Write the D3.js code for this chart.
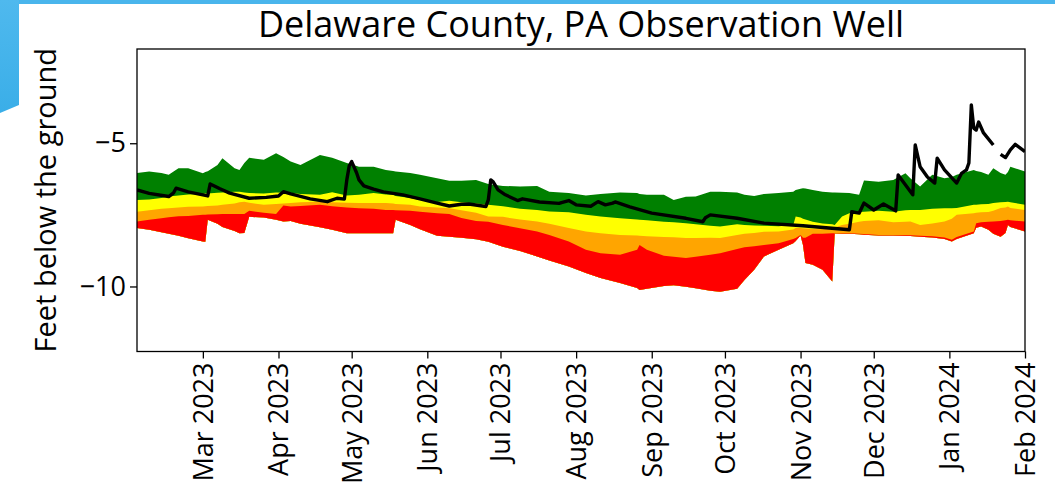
<!DOCTYPE html>
<html lang="en">
<head>
  <meta charset="UTF-8">
  <title>Delaware County, PA Observation Well</title>
  <script src="https://d3js.org/d3.v7.min.js"></script>
  <style>
    body {
      margin: 0;
      background-color: #ffffff;
      font-family: 'Open Sans', 'Noto Sans', sans-serif;
    }
    svg { display: block; }
    .tick text { fill: #000; }
  </style>
</head>
<body>
  <svg id="chart" width="1055" height="498"></svg>

  <script>
    // percentile bands (feet, negative = below ground)
    const bandDates = ["2023-02-02","2023-02-07","2023-02-12","2023-02-15","2023-02-19","2023-02-23","2023-03-01","2023-03-02","2023-03-03","2023-03-07",
      "2023-03-09","2023-03-14","2023-03-16","2023-03-18","2023-03-20","2023-03-26","2023-03-31","2023-04-03","2023-04-06","2023-04-10",
      "2023-04-18","2023-04-23","2023-04-29","2023-05-04","2023-05-10","2023-05-15","2023-05-18","2023-05-19","2023-05-25","2023-05-29",
      "2023-06-05","2023-06-10","2023-06-15","2023-06-21","2023-06-26","2023-07-02","2023-07-09","2023-07-16","2023-07-21","2023-07-29",
      "2023-08-05","2023-08-11","2023-08-19","2023-08-26","2023-08-27","2023-08-30","2023-09-06","2023-09-10","2023-09-15","2023-09-19",
      "2023-09-25","2023-09-29","2023-10-06","2023-10-09","2023-10-13","2023-10-17","2023-10-23","2023-10-29","2023-10-30","2023-11-01",
      "2023-11-02","2023-11-03","2023-11-06","2023-11-10","2023-11-14","2023-11-15","2023-11-18","2023-11-21","2023-11-25","2023-11-27",
      "2023-12-03","2023-12-09","2023-12-14","2023-12-16","2023-12-20","2023-12-25","2023-12-30","2024-01-02","2024-01-04","2024-01-11",
      "2024-01-12","2024-01-14","2024-01-17","2024-01-19","2024-01-22","2024-01-24","2024-01-25","2024-01-26","2024-02-01"];

    const greenTop = [-6.04,-5.99,-6.04,-6.10,-5.87,-5.87,-6.05,-6.00,-5.98,-5.76,
      -5.52,-5.87,-5.93,-5.69,-5.51,-5.58,-5.35,-5.48,-5.64,-5.76,
      -5.41,-5.51,-5.69,-5.82,-5.82,-5.93,-5.97,-5.99,-6.04,-6.10,
      -6.22,-6.31,-6.31,-6.28,-6.42,-6.49,-6.51,-6.49,-6.69,-6.74,
      -6.82,-6.77,-6.72,-6.74,-6.77,-6.80,-6.80,-6.98,-6.87,-6.86,
      -6.69,-6.69,-6.72,-6.80,-6.84,-6.77,-6.74,-6.69,-6.63,-6.59,
      -6.57,-6.58,-6.63,-6.69,-6.72,-6.72,-6.73,-6.74,-6.80,-6.30,
      -6.34,-6.28,-6.05,-6.22,-6.51,-6.10,-6.22,-6.18,-6.10,-5.93,
      -5.97,-6.00,-6.10,-5.87,-6.04,-6.10,-6.00,-5.82,-5.99];

    const yellowTop = [-6.98,-6.96,-6.91,-6.86,-6.82,-6.79,-6.77,-6.75,-6.75,-6.73,
      -6.72,-6.69,-6.69,-6.72,-6.74,-6.75,-6.72,-6.73,-6.74,-6.77,
      -6.80,-6.71,-6.82,-6.80,-6.74,-6.79,-6.80,-6.84,-6.91,-6.98,
      -7.05,-7.01,-7.06,-7.10,-7.15,-7.20,-7.29,-7.33,-7.38,-7.41,
      -7.50,-7.56,-7.62,-7.66,-7.67,-7.69,-7.74,-7.76,-7.79,-7.83,
      -7.88,-7.91,-7.83,-7.85,-7.87,-7.88,-7.90,-7.85,-7.56,-7.59,
      -7.64,-7.66,-7.74,-7.80,-7.83,-7.85,-7.56,-7.44,-7.40,-7.39,
      -7.36,-7.39,-7.34,-7.33,-7.33,-7.29,-7.27,-7.27,-7.26,-7.15,
      -7.15,-7.13,-7.12,-7.09,-7.06,-7.05,-7.04,-7.06,-7.15];

    const orangeTop = [-7.39,-7.34,-7.29,-7.27,-7.24,-7.22,-7.21,-7.20,-7.19,-7.17,
      -7.15,-7.10,-7.06,-7.04,-7.08,-7.15,-7.12,-7.10,-7.09,-7.06,
      -7.04,-7.06,-7.08,-7.09,-7.09,-7.09,-7.10,-7.12,-7.15,-7.21,
      -7.24,-7.27,-7.34,-7.43,-7.56,-7.57,-7.66,-7.73,-7.81,-7.96,
      -8.08,-8.14,-8.20,-8.22,-8.23,-8.25,-8.27,-8.28,-8.31,-8.31,
      -8.30,-8.31,-8.20,-8.16,-8.13,-8.09,-8.08,-8.01,-7.96,-7.96,
      -7.97,-7.98,-7.99,-8.00,-7.95,-7.94,-7.85,-7.81,-7.74,-7.71,
      -7.69,-7.76,-7.74,-7.73,-7.85,-7.80,-7.73,-7.64,-7.50,-7.44,
      -7.43,-7.41,-7.40,-7.36,-7.26,-7.24,-7.21,-7.26,-7.33];

    const redTop = [-7.73,-7.67,-7.62,-7.58,-7.55,-7.54,-7.50,-7.50,-7.49,-7.48,
      -7.47,-7.47,-7.47,-7.47,-7.36,-7.43,-7.47,-7.17,-7.21,-7.19,
      -7.15,-7.20,-7.24,-7.27,-7.29,-7.33,-7.33,-7.34,-7.36,-7.39,
      -7.44,-7.47,-7.61,-7.71,-7.74,-7.85,-7.97,-8.08,-8.20,-8.43,
      -8.72,-8.84,-8.89,-8.72,-8.55,-8.72,-8.93,-8.96,-9.01,-8.96,
      -8.89,-8.84,-8.69,-8.63,-8.60,-8.55,-8.49,-8.34,-8.31,-8.20,
      -8.30,-8.30,-8.16,-8.16,-8.14,-8.14,-8.14,-8.14,-8.16,-8.17,
      -8.20,-8.20,-8.20,-8.21,-8.23,-8.25,-8.29,-8.37,-8.27,-8.08,
      -7.79,-7.76,-7.74,-7.73,-7.71,-7.69,-7.67,-7.69,-7.73];

    const redBottom = [-7.96,-8.02,-8.11,-8.16,-8.23,-8.32,-8.43,-8.44,-7.67,-7.81,
      -7.92,-8.06,-8.14,-8.13,-7.57,-7.59,-7.67,-7.73,-7.71,-7.81,
      -7.93,-8.02,-8.14,-8.14,-8.14,-8.14,-8.14,-7.67,-7.85,-8.00,
      -8.23,-8.26,-8.30,-8.35,-8.44,-8.61,-8.76,-8.95,-9.09,-9.30,
      -9.53,-9.70,-9.88,-10.05,-10.12,-10.08,-9.98,-9.96,-10.01,-10.06,
      -10.15,-10.18,-10.08,-9.77,-9.42,-8.95,-8.72,-8.49,-8.41,-8.22,
      -8.55,-9.18,-9.24,-9.42,-9.83,-8.15,-8.16,-8.16,-8.18,-8.19,
      -8.22,-8.22,-8.23,-8.24,-8.26,-8.29,-8.34,-8.43,-8.34,-8.14,
      -7.95,-7.91,-8.02,-8.16,-8.26,-8.13,-7.85,-7.92,-8.08];

    // observed water level (null = missing)
    const levelDates = ["2023-02-02","2023-02-07","2023-02-15","2023-02-17","2023-02-18","2023-02-23","2023-03-03","2023-03-04","2023-03-08","2023-03-12",
      "2023-03-20","2023-03-27","2023-04-01","2023-04-03","2023-04-06","2023-04-14","2023-04-21","2023-04-25","2023-04-28","2023-04-29",
      "2023-04-30","2023-05-01","2023-05-03","2023-05-04","2023-05-06","2023-05-10","2023-05-14","2023-05-22","2023-05-29","2023-06-05",
      "2023-06-10","2023-06-15","2023-06-18","2023-06-25","2023-06-26","2023-06-27","2023-06-28","2023-06-30","2023-07-03","2023-07-06",
      "2023-07-08","2023-07-10","2023-07-17","2023-07-25","2023-07-26","2023-07-29","2023-08-01","2023-08-07","2023-08-10","2023-08-13",
      "2023-08-16","2023-08-17","2023-08-23","2023-09-01","2023-09-15","2023-09-22","2023-09-23","2023-09-25","2023-10-06","2023-10-17",
      "2023-11-02","2023-11-21","2023-11-22","2023-11-25","2023-11-27","2023-12-01","2023-12-05","2023-12-10","2023-12-11","2023-12-17",
      "2023-12-18","2023-12-20","2023-12-23","2023-12-26","2023-12-27","2023-12-30","2024-01-04","2024-01-06","2024-01-08","2024-01-09",
      "2024-01-10","2024-01-11","2024-01-12","2024-01-13","2024-01-15","2024-01-19","2024-01-20","2024-01-22","2024-01-24","2024-01-26",
      "2024-01-28","2024-02-01"];

    const levelFeet = [-6.63,-6.75,-6.86,-6.73,-6.57,-6.70,-6.84,-6.42,-6.59,-6.74,
      -6.92,-6.89,-6.84,-6.69,-6.77,-6.94,-7.04,-6.92,-6.95,-6.28,
      -5.79,-5.64,-6.03,-6.28,-6.49,-6.60,-6.70,-6.80,-6.94,-7.09,
      -7.19,-7.13,-7.12,-7.21,-6.98,-6.28,-6.35,-6.63,-6.80,-6.92,
      -7.00,-6.94,-7.05,-7.10,-7.07,-7.00,-7.15,-7.20,-7.04,-7.15,
      -7.09,-7.05,-7.22,-7.44,-7.62,-7.74,-7.60,-7.50,-7.62,-7.79,
      -7.88,-8.02,-7.39,-7.44,-7.09,-7.33,-7.12,-7.36,-6.11,-6.80,
      -5.06,-5.82,-6.18,-6.39,-5.52,-5.93,-6.39,-6.05,-5.93,-5.69,
      -3.66,-4.47,-4.54,-4.26,-4.64,-5.06,null,-5.39,-5.50,-5.23,
      -5.04,-5.29];

    const yTicks = [-5, -10];
    const monthTicks = ["2023-03-01","2023-04-01","2023-05-01","2023-06-01","2023-07-01","2023-08-01",
      "2023-09-01","2023-10-01","2023-11-01","2023-12-01","2024-01-01","2024-02-01"];

    const parseDate = d3.timeParse("%Y-%m-%d");

    const W = 1055, H = 498;
    const margin = {top: 49, right: 30, bottom: 146.5, left: 137};
    const width = W - margin.left - margin.right;
    const height = H - margin.top - margin.bottom;

    const svg = d3.select("#chart");

    // slide decoration behind the figure
    const grad = svg.append("defs").append("linearGradient")
      .attr("id", "deco").attr("x1", 0).attr("y1", 0).attr("x2", 0).attr("y2", 1);
    grad.append("stop").attr("offset", "0%").attr("stop-color", "#4fb9ee");
    grad.append("stop").attr("offset", "100%").attr("stop-color", "#3aaee8");
    svg.append("rect").attr("x", 0).attr("y", 0).attr("width", W).attr("height", 4).attr("fill", "#49b5ec");
    svg.append("path").attr("d", "M0,0H19V105L0,113Z").attr("fill", "url(#deco)");

    const g = svg.append("g")
      .attr("transform", "translate(" + margin.left + "," + margin.top + ")");

    const bands = bandDates.map((d, i) => ({
      date: parseDate(d),
      green: greenTop[i], yellow: yellowTop[i], orange: orangeTop[i],
      red: redTop[i], bottom: redBottom[i]
    }));
    const level = levelDates.map((d, i) => ({date: parseDate(d), value: levelFeet[i]}));

    const x = d3.scaleTime()
      .domain(d3.extent(bands, d => d.date))
      .range([0, width]);

    const y = d3.scaleLinear()
      .domain([-12.27, -1.71])
      .range([height, 0]);

    g.append("clipPath").attr("id", "plotclip")
      .append("rect").attr("width", width).attr("height", height);

    const layers = g.append("g").attr("clip-path", "url(#plotclip)");

    // each layer fills from its top down to the lowest boundary, painted in order
    const bandSpec = [
      {key: "green", color: "#008000"},
      {key: "yellow", color: "#ffff00"},
      {key: "orange", color: "#ffa500"},
      {key: "red", color: "#ff0000"}
    ];
    bandSpec.forEach(b => {
      layers.append("path")
        .datum(bands)
        .attr("fill", b.color)
        .attr("d", d3.area()
          .x(d => x(d.date))
          .y0(d => y(d.bottom))
          .y1(d => y(d[b.key])));
    });

    layers.append("path")
      .datum(level)
      .attr("fill", "none")
      .attr("stroke", "#000")
      .attr("stroke-width", 3.4)
      .attr("stroke-linejoin", "round")
      .attr("d", d3.line()
        .defined(d => d.value !== null)
        .x(d => x(d.date))
        .y(d => y(d.value)));

    // axes
    const xAxis = g.append("g")
      .attr("transform", "translate(0," + height + ")")
      .call(d3.axisBottom(x)
        .tickValues(monthTicks.map(parseDate))
        .tickFormat(d3.timeFormat("%b %Y"))
        .tickSize(7));
    xAxis.select(".domain").remove();
    xAxis.selectAll(".tick line").attr("stroke", "#000").attr("stroke-width", 1.3);
    xAxis.selectAll(".tick text")
      .attr("transform", "rotate(-90)")
      .attr("x", -11)
      .attr("y", 0)
      .attr("dy", "0.35em")
      .attr("text-anchor", "end")
      .style("font-size", "27px")
      .style("font-family", "'Open Sans', sans-serif");

    const yAxis = g.append("g")
      .call(d3.axisLeft(y).tickValues(yTicks).tickSize(7));
    yAxis.select(".domain").remove();
    yAxis.selectAll(".tick line").attr("stroke", "#000").attr("stroke-width", 1.3);
    yAxis.selectAll(".tick text")
      .attr("x", -11)
      .style("font-size", "27px")
      .style("font-family", "'Open Sans', sans-serif");

    // frame
    g.append("rect")
      .attr("width", width).attr("height", height)
      .attr("fill", "none").attr("stroke", "#000").attr("stroke-width", 1.3);

    svg.append("text")
      .attr("x", margin.left + width / 2)
      .attr("y", 37)
      .attr("text-anchor", "middle")
      .style("font-size", "36px")
      .style("fill", "#000")
      .text("Delaware County, PA Observation Well");

    svg.append("text")
      .attr("transform", "translate(56," + (margin.top + height / 2) + ") rotate(-90)")
      .attr("text-anchor", "middle")
      .style("font-size", "29px")
      .style("fill", "#000")
      .text("Feet below the ground");
  </script>
</body>
</html>
